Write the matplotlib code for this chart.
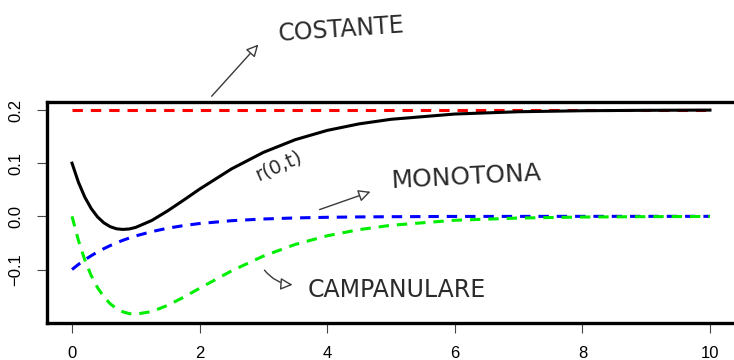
import matplotlib
matplotlib.use('Agg')
import matplotlib.pyplot as plt

# maturities and the curve components
t = [0, 0.1, 0.2, 0.3, 0.4, 0.5, 0.6, 0.7, 0.8, 0.9, 1.0, 1.25, 1.5, 1.75,
     2.0, 2.5, 3.0, 3.5, 4.0, 4.5, 5.0, 6.0, 7.0, 8.0, 9.0, 10.0]
costante = [0.2] * len(t)
monotona = [-0.100, -0.0905, -0.0819, -0.0741, -0.0670, -0.0607, -0.0549, -0.0497,
            -0.0449, -0.0407, -0.0368, -0.0287, -0.0223, -0.0174, -0.0135, -0.0082,
            -0.0050, -0.0030, -0.0018, -0.0011, -0.0007, -0.0002, -0.0001, 0.0, 0.0, 0.0]
campanulare = [0.0, -0.0452, -0.0819, -0.1111, -0.1341, -0.1516, -0.1646, -0.1738,
               -0.1797, -0.1830, -0.1839, -0.1791, -0.1673, -0.1521, -0.1353, -0.1026,
               -0.0747, -0.0528, -0.0366, -0.0250, -0.0168, -0.0074, -0.0032, -0.0013,
               -0.0006, -0.0002]
r0t = [0.1000, 0.0643, 0.0362, 0.0148, -0.0011, -0.0123, -0.0195, -0.0235, -0.0246,
       -0.0237, -0.0207, -0.0078, 0.0104, 0.0305, 0.0512, 0.0892, 0.1203, 0.1442,
       0.1616, 0.1739, 0.1825, 0.1924, 0.1967, 0.1986, 0.1994, 0.1998]

xticks = [0, 2, 4, 6, 8, 10]
yticks = [-0.1, 0.0, 0.1, 0.2]
ylabels = ['\u22120.1', '0.0', '0.1', '0.2']

plt.rcParams['font.family'] = ['Liberation Sans', 'DejaVu Sans']

fig = plt.figure(figsize=(7.34, 3.6), dpi=100)
ax = fig.add_axes([46.5 / 734, 1 - 322.9 / 360, 689 / 734, 221.1 / 360])

dash = (3.4, 2.6)
ax.plot(t, costante, color='red', lw=2.2, dashes=dash)
ax.plot(t, r0t, color='black', lw=2.2)
ax.plot(t, monotona, color='blue', lw=2.2, dashes=dash)
ax.plot(t, campanulare, color='#00ee00', lw=2.2, dashes=dash)

ax.set_xlim(-0.4, 10.4)
ax.set_ylim(-0.2004, 0.2154)
ax.set_xticks(xticks)
ax.set_yticks(yticks)
ax.set_yticklabels(ylabels, rotation=90, va='center')
ax.tick_params(direction='out', length=7.5, width=0.8, color='#444444',
               labelsize=12, pad=9)
for s in ax.spines.values():
    s.set_linewidth(2.4)

# handwritten notes
note = dict(color='#2b2b2b', family=['DejaVu Sans'], fontweight='normal')
arr = dict(arrowstyle='-|>', color='#3a3a3a', lw=1.0, fc='white',
           mutation_scale=18)

ax.annotate('', xy=(2.95, 0.327), xytext=(2.16, 0.222),
            arrowprops=arr, annotation_clip=False)
ax.text(4.22, 0.352, 'COSTANTE', fontsize=17, rotation=4,
        ha='center', va='center', **note)

ax.text(3.24, 0.096, 'r(0,t)', fontsize=14, rotation=24,
        ha='center', va='center', **note)

ax.annotate('', xy=(4.72, 0.048), xytext=(3.84, 0.011), arrowprops=arr)
ax.text(6.18, 0.074, 'MONOTONA', fontsize=18, rotation=3,
        ha='center', va='center', **note)

ax.annotate('', xy=(3.50, -0.129), xytext=(2.99, -0.097),
            arrowprops=dict(arr, connectionstyle='arc3,rad=0.25'))
ax.text(5.09, -0.139, 'CAMPANULARE', fontsize=17,
        ha='center', va='center', **note)

fig.savefig('out.png', dpi=100)
